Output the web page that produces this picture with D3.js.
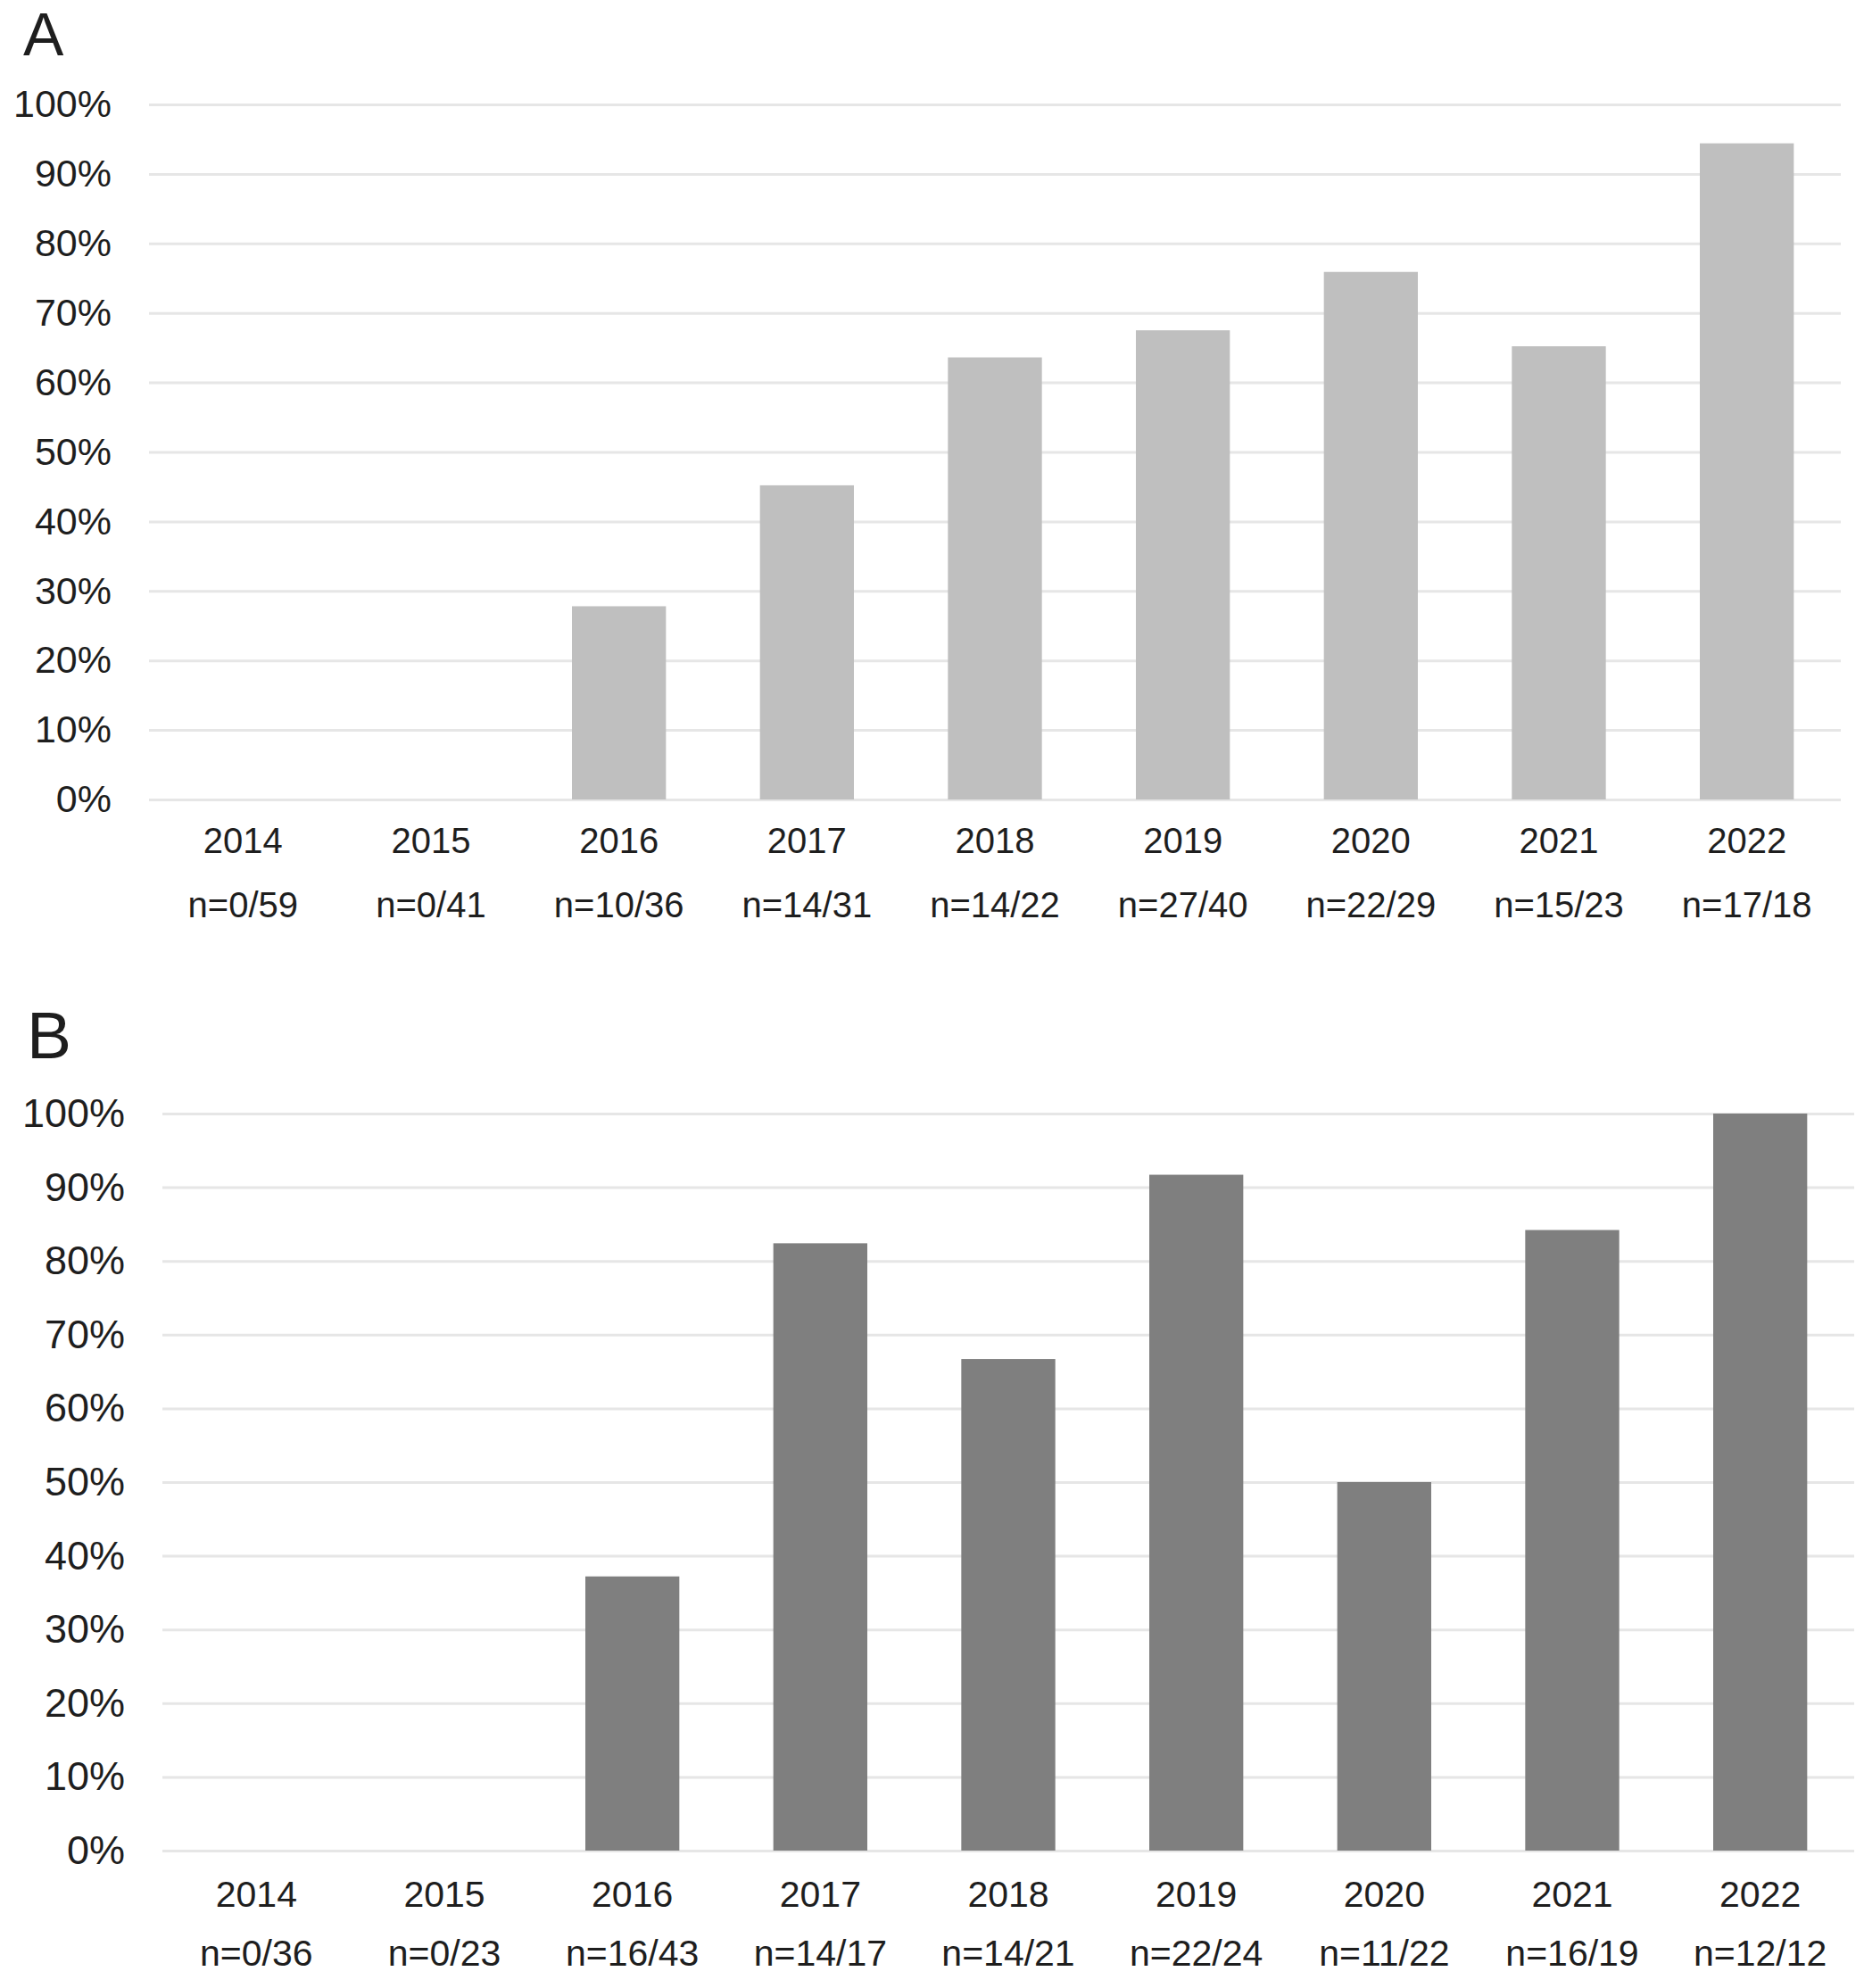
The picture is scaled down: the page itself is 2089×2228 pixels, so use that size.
<!DOCTYPE html>
<html>
<head>
<meta charset="utf-8">
<script src="https://cdn.jsdelivr.net/npm/d3@7/dist/d3.min.js"></script>
<style>
  html, body { margin: 0; padding: 0; background: #fff; }
  svg { display: block; }
  text { font-family: "Liberation Sans", Arial, Helvetica, sans-serif; fill: #1e1e1e; }
</style>
</head>
<body>
<svg id="chart" width="2089" height="2228"></svg>
<script>
// ---- Data ----
const years = ["2014", "2015", "2016", "2017", "2018", "2019", "2020", "2021", "2022"];

const countsA = ["n=0/59", "n=0/41", "n=10/36", "n=14/31", "n=14/22", "n=27/40", "n=22/29", "n=15/23", "n=17/18"];
const valuesA = [0, 0, 27.8, 45.2, 63.6, 67.5, 75.9, 65.2, 94.4];

const countsB = ["n=0/36", "n=0/23", "n=16/43", "n=14/17", "n=14/21", "n=22/24", "n=11/22", "n=16/19", "n=12/12"];
const valuesB = [0, 0, 37.2, 82.4, 66.7, 91.7, 50.0, 84.2, 100];

const yTicks = [0, 10, 20, 30, 40, 50, 60, 70, 80, 90, 100];

// ---- Layout ----
const panels = [
  { letter: "A", counts: countsA, values: valuesA, color: "#bfbfbf",
    left: 167, right: 2063, top: 117, bottom: 896,
    letterX: 26, letterY: 62, letterSize: 68, ySize: 43, xSize: 40,
    yearDy: 60, countDy: 132 },
  { letter: "B", counts: countsB, values: valuesB, color: "#7f7f7f",
    left: 182, right: 2078, top: 1248, bottom: 2074,
    letterX: 30, letterY: 1186, letterSize: 75, ySize: 45, xSize: 41,
    yearDy: 63, countDy: 129 }
];

const svg = d3.select("#chart");

panels.forEach(p => {
  const g = svg.append("g");
  const width = p.right - p.left;

  const x = d3.scaleBand().domain(years).range([p.left, p.right])
    .paddingInner(0.5).paddingOuter(0.25);
  const y = d3.scaleLinear().domain([0, 100]).range([p.bottom, p.top]);

  // Panel letter
  g.append("text")
    .attr("x", p.letterX).attr("y", p.letterY)
    .attr("font-size", p.letterSize)
    .text(p.letter);

  // Y axis with gridlines
  const yAxis = d3.axisLeft(y)
    .tickValues(yTicks)
    .tickFormat(d => d + "%")
    .tickSizeInner(-width)
    .tickSizeOuter(0)
    .tickPadding(42);

  const ya = g.append("g")
    .attr("transform", `translate(${p.left},0)`)
    .call(yAxis);
  ya.select(".domain").remove();
  ya.selectAll(".tick line")
    .attr("stroke", "#e6e6e6")
    .attr("stroke-width", 3);
  ya.selectAll(".tick text")
    .attr("font-size", p.ySize)
    .attr("fill", "#1e1e1e")
    .attr("font-family", "'Liberation Sans', Arial, sans-serif");

  // Bars
  g.selectAll("rect.bar")
    .data(years.map((yr, i) => ({ yr, v: p.values[i] })))
    .join("rect")
    .attr("class", "bar")
    .attr("x", d => x(d.yr))
    .attr("width", x.bandwidth())
    .attr("y", d => y(d.v))
    .attr("height", d => y(0) - y(d.v))
    .attr("fill", p.color);

  // X labels (year + counts)
  const lab = g.selectAll("g.xlab")
    .data(years.map((yr, i) => ({ yr, n: p.counts[i] })))
    .join("g")
    .attr("class", "xlab")
    .attr("transform", d => `translate(${x(d.yr) + x.bandwidth() / 2},0)`);

  lab.append("text")
    .attr("y", p.bottom + p.yearDy)
    .attr("text-anchor", "middle")
    .attr("font-size", p.xSize)
    .text(d => d.yr);

  lab.append("text")
    .attr("y", p.bottom + p.countDy)
    .attr("text-anchor", "middle")
    .attr("font-size", p.xSize)
    .text(d => d.n);
});
</script>
</body>
</html>
